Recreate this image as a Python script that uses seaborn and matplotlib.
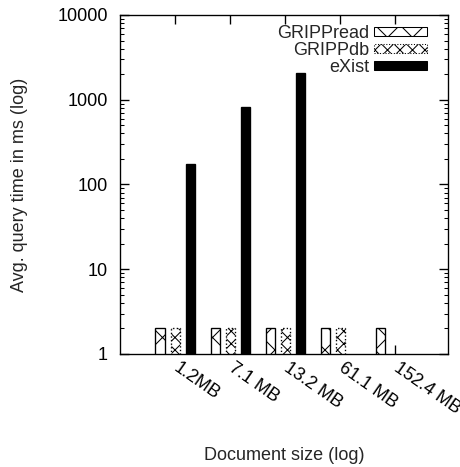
import matplotlib
matplotlib.use('Agg')
import matplotlib.pyplot as plt
import matplotlib.transforms as mtransforms
from matplotlib.patches import Patch
import numpy as np
import pandas as pd
import seaborn as sns

# Values
sizes = ['1.2MB', '7.1 MB', '13.2 MB', '61.1 MB', '152.4 MB']
systems = ['GRIPPread', 'GRIPPdb', 'eXist']
gripp_read = [2, 2, 2, 2, 2]
gripp_db = [2, 2, 2, 2, np.nan]
exist = [175, 830, 2040, np.nan, np.nan]

y_ticks = [1, 10, 100, 1000, 10000]
y_tick_labels = ['1', '10', '100', '1000', '10000']

# 75 dpi so the hatch spacing comes out close to the gnuplot patterns
DPI = 75
FS = 17.3

sns.set_theme(style='ticks')
plt.rcParams['font.family'] = ['Liberation Sans', 'DejaVu Sans']
plt.rcParams['hatch.linewidth'] = 1.0
plt.rcParams['hatch.color'] = 'black'

df = pd.DataFrame({
    'size': sizes * 3,
    'system': np.repeat(systems, len(sizes)),
    'time': gripp_read + gripp_db + exist,
})

fig = plt.figure(figsize=(460 / DPI, 467 / DPI), dpi=DPI)
ax = fig.add_axes([0.2609, 0.242, 0.713, 0.7259])

sns.barplot(data=df, x='size', y='time', hue='system', order=sizes, hue_order=systems,
            palette=['white', 'white', 'black'], width=0.82, gap=0.4, errorbar=None,
            legend=False, edgecolor='black', linewidth=1.3, ax=ax)

# Patterns per series (gnuplot style fills)
styles = {
    'GRIPPread': dict(hatch='x', linestyle='-'),
    'GRIPPdb': dict(hatch='xx', linestyle=':'),
    'eXist': dict(hatch=None, linestyle='-'),
}
for cont, name in zip(ax.containers, systems):
    for p in cont.patches:
        p.set_hatch(styles[name]['hatch'])
        p.set_linestyle(styles[name]['linestyle'])

ax.set_yscale('log')
ax.set_ylim(1, 10000)
ax.set_xlim(-1, 4.96)
ax.set_yticks(y_ticks, y_tick_labels)
ax.yaxis.set_minor_locator(matplotlib.ticker.LogLocator(base=10, subs=np.arange(2, 10)))
ax.yaxis.set_minor_formatter(matplotlib.ticker.NullFormatter())

ax.tick_params(axis='both', which='both', direction='in', top=True, right=True,
               colors='black', labelsize=FS)
ax.tick_params(which='major', length=8.6, width=1.3)
ax.tick_params(which='minor', length=4.3, width=1.0)
ax.tick_params(axis='y', pad=11.5)
ax.tick_params(axis='x', pad=5.4)
shift = mtransforms.ScaledTranslation(5 / DPI, 0, fig.dpi_scale_trans)
for lbl in ax.get_xticklabels():
    lbl.set_rotation(-35)
    lbl.set_ha('left')
    lbl.set_va('top')
    lbl.set_rotation_mode('anchor')
    lbl.set_transform(lbl.get_transform() + shift)

for s in ax.spines.values():
    s.set_color('black')
    s.set_linewidth(1.3)

ax.set_xlabel('Document size (log)', fontsize=FS)
ax.xaxis.set_label_coords(0.5, -0.273)
ax.set_ylabel('Avg. query time in ms (log)', fontsize=FS)
ax.yaxis.set_label_coords(-0.28, 0.5)

handles = [
    Patch(facecolor='white', edgecolor='black', hatch='x', label='GRIPPread'),
    Patch(facecolor='white', edgecolor='black', hatch='xx', linestyle=':', label='GRIPPdb'),
    Patch(facecolor='black', edgecolor='black', label='eXist'),
]
ax.legend(handles=handles, loc='upper right', bbox_to_anchor=(0.948, 0.98), frameon=False,
          markerfirst=False, handlelength=2.95, handleheight=0.4, handletextpad=0.28,
          labelspacing=0.0, borderpad=0.2, borderaxespad=0, fontsize=FS)

fig.savefig('out.png', dpi=DPI)
